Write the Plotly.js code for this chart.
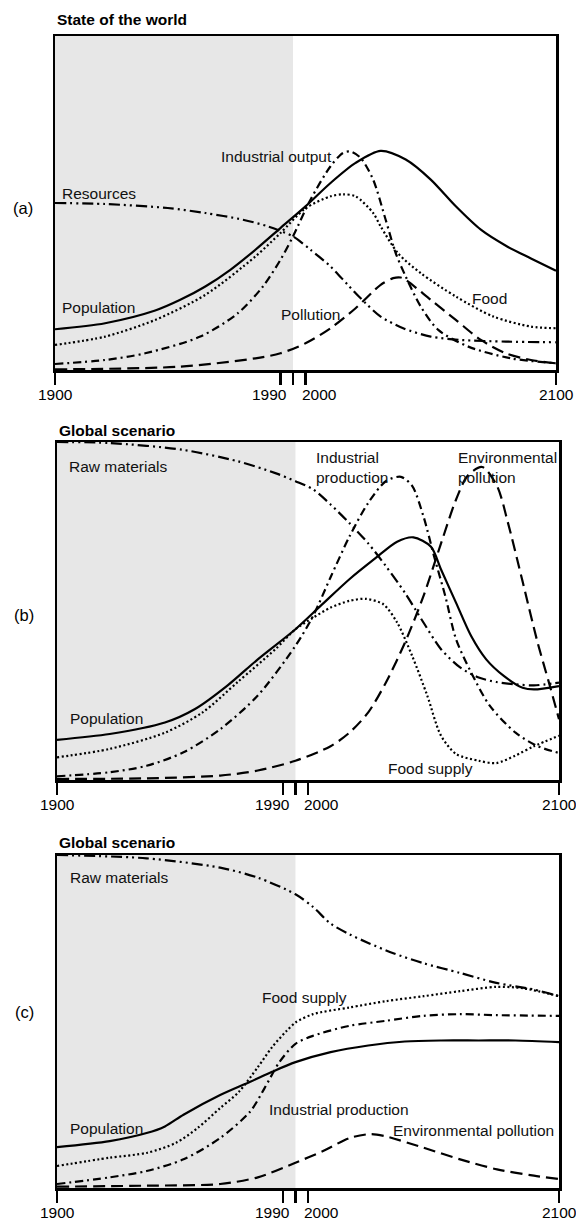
<!DOCTYPE html>
<html><head><meta charset="utf-8">
<script src="https://cdn.plot.ly/plotly-3.0.1.min.js"></script>
<style>html,body{margin:0;padding:0;background:#fff}</style>
</head><body><div id="chart" style="width:576px;height:1225px"></div>
<script>
// ---------- data ----------
const tickYears = [1900, 1990, 1995, 2000, 2100];
const tickLabels = ['1900', '1990', '2000', '2100'];
const historyEnd = 1995;

// Panel (a) State of the world
const popA_x = [1900,1920,1940,1950,1960,1970,1980,1990,2000,2010,2020,2030,2040,2050,2060,2070,2080,2090,2100];
const popA_y = [0.122,0.14,0.178,0.21,0.25,0.30,0.36,0.425,0.49,0.56,0.62,0.656,0.63,0.57,0.49,0.42,0.372,0.334,0.297];
const foodA_x = [1900,1920,1940,1960,1980,1990,2000,2010,2015,2020,2027,2030,2037,2046,2060,2075,2090,2100];
const foodA_y = [0.075,0.10,0.15,0.225,0.34,0.41,0.484,0.52,0.526,0.52,0.47,0.43,0.349,0.29,0.22,0.16,0.13,0.125];
const indA_x = [1900,1920,1936,1958,1973,1983,1990,1995,2002,2010,2015,2018,2022,2027,2032,2036,2040,2046,2053,2065,2082,2100];
const indA_y = [0.018,0.03,0.05,0.10,0.17,0.25,0.33,0.40,0.51,0.61,0.65,0.654,0.635,0.57,0.45,0.35,0.28,0.19,0.12,0.07,0.035,0.02];
const resA_x = [1900,1920,1945,1960,1975,1985,1995,2002,2010,2017,2024,2030,2039,2050,2062,2080,2100];
const resA_y = [0.50,0.497,0.485,0.47,0.45,0.43,0.40,0.36,0.31,0.254,0.20,0.16,0.125,0.10,0.09,0.085,0.083];
const polA_x = [1900,1950,1980,1990,2000,2010,2020,2030,2035,2038,2040,2050,2060,2070,2080,2090,2100];
const polA_y = [0.002,0.01,0.035,0.05,0.08,0.125,0.185,0.255,0.275,0.277,0.27,0.21,0.15,0.09,0.05,0.03,0.02];

// Panel (b) Global scenario
const popB_x = [1900,1921,1943,1955,1968,1980,1995,2005,2016.5,2027,2035.5,2042,2049,2053,2059,2065,2071,2078,2085.5,2090,2100];
const popB_y = [0.119,0.136,0.17,0.21,0.28,0.357,0.446,0.515,0.594,0.657,0.705,0.718,0.69,0.623,0.524,0.426,0.357,0.308,0.273,0.268,0.278];
const foodB_x = [1900,1921,1943,1958,1972,1987,1995,2002,2009,2016.5,2023,2030,2035.5,2041.5,2047.5,2053,2059,2068,2075,2082.5,2090,2100];
const foodB_y = [0.067,0.092,0.14,0.20,0.29,0.387,0.446,0.48,0.51,0.53,0.536,0.52,0.466,0.367,0.25,0.131,0.077,0.057,0.05,0.072,0.10,0.131];
const indB_x = [1900,1921,1935.7,1950.4,1965,1980,1995,2002,2009,2016.5,2024,2031,2037,2041.5,2046,2050.3,2054.7,2059,2065,2072.4,2082.7,2091.5,2100];
const indB_y = [0.011,0.023,0.042,0.082,0.15,0.25,0.397,0.485,0.60,0.72,0.82,0.884,0.897,0.87,0.78,0.66,0.544,0.416,0.318,0.22,0.14,0.10,0.08];
const rawB_x = [1900,1921,1950,1972,1987,1995,2002,2009,2016.5,2024,2031,2038.6,2046,2053,2060.6,2068,2075,2082.7,2090,2100];
const rawB_y = [1.0,0.997,0.977,0.943,0.908,0.884,0.86,0.815,0.76,0.70,0.633,0.554,0.466,0.387,0.333,0.303,0.29,0.283,0.28,0.288];
const polB_x = [1900,1935.7,1965,1980,1995,2009,2016.5,2024,2031,2038.6,2046,2053,2059,2063.6,2069.4,2075.3,2079.7,2085.6,2091.5,2096,2100];
const polB_y = [0.003,0.005,0.013,0.028,0.057,0.10,0.14,0.20,0.288,0.406,0.544,0.70,0.83,0.90,0.926,0.87,0.76,0.584,0.406,0.288,0.18];

// Panel (c) Global scenario
const popC_x = [1900,1921,1935.7,1943,1950.4,1965,1977,1985.7,1995,2009,2024,2038.6,2053,2068,2082.7,2100];
const popC_y = [0.123,0.141,0.165,0.185,0.22,0.279,0.319,0.349,0.378,0.408,0.428,0.44,0.443,0.443,0.443,0.438];
const foodC_x = [1900,1921,1936,1947.5,1956,1965,1972.5,1980,1985.7,1991.5,1995,2002,2016.5,2031,2046,2060.5,2075,2085.5,2100];
const foodC_y = [0.066,0.091,0.106,0.136,0.18,0.24,0.289,0.363,0.423,0.472,0.497,0.522,0.542,0.561,0.576,0.591,0.604,0.60,0.576];
const indC_x = [1900,1921,1935.7,1950.4,1965,1977,1982.7,1988.6,1995,2002,2016.5,2031,2046,2060.6,2075.3,2100];
const indC_y = [0.012,0.032,0.051,0.086,0.15,0.23,0.30,0.378,0.433,0.457,0.487,0.502,0.517,0.522,0.519,0.517];
const rawC_x = [1900,1935.7,1965,1980,1995,2002,2009,2016.5,2024,2034,2046,2060.5,2075,2090,2100];
const rawC_y = [1.0,0.99,0.962,0.932,0.882,0.844,0.794,0.762,0.736,0.705,0.675,0.646,0.616,0.596,0.576];
const polC_x = [1900,1935.7,1965,1980,1995,2006,2016.5,2025,2031,2046,2060.6,2075.3,2090,2100];
const polC_y = [0.004,0.007,0.012,0.032,0.076,0.111,0.15,0.162,0.155,0.121,0.086,0.056,0.037,0.027];

// ---------- styles ----------
const W = 576, H = 1225;
const FONT = 'Liberation Sans, Arial, Helvetica, sans-serif';
const LW = 2.2;
const DASH = {
  pop: 'solid',
  food: '2px,2.5px',
  ind: '8px,4px,2px,4px',
  res: '11px,4px,2px,4px,2px,4px',
  pol: '12px,6px'
};

function tr(x, y, kind, s) {
  return {x: x, y: y, type: 'scatter', mode: 'lines', xaxis: 'x' + s, yaxis: 'y' + s,
    line: {color: '#000', width: LW, dash: DASH[kind], shape: 'spline', smoothing: 0.8},
    hoverinfo: 'skip', showlegend: false, cliponaxis: true};
}

const data = [
  tr(resA_x, resA_y, 'res', ''), tr(polA_x, polA_y, 'pol', ''), tr(indA_x, indA_y, 'ind', ''),
  tr(foodA_x, foodA_y, 'food', ''), tr(popA_x, popA_y, 'pop', ''),
  tr(rawB_x, rawB_y, 'res', '2'), tr(polB_x, polB_y, 'pol', '2'), tr(indB_x, indB_y, 'ind', '2'),
  tr(foodB_x, foodB_y, 'food', '2'), tr(popB_x, popB_y, 'pop', '2'),
  tr(rawC_x, rawC_y, 'res', '3'), tr(polC_x, polC_y, 'pol', '3'), tr(indC_x, indC_y, 'ind', '3'),
  tr(foodC_x, foodC_y, 'food', '3'), tr(popC_x, popC_y, 'pop', '3')
];

// panel frames in pixels: [left, right, top, bottom]
const frames = [[55, 556, 36, 370], [57, 559, 442, 780], [57, 559, 855, 1188]];
const sfx = ['', '2', '3'];

function xa(f, s) {
  return {domain: [f[0] / W, f[1] / W], range: [1900, 2100], anchor: 'y' + s,
    tickmode: 'array', tickvals: tickYears, ticks: 'outside', ticklen: 12, tickwidth: 2.5, tickcolor: '#000',
    showticklabels: false, showline: true, linewidth: 2.5, linecolor: '#000', mirror: true,
    showgrid: false, zeroline: false, fixedrange: true};
}
function ya(f, s) {
  return {domain: [1 - f[3] / H, 1 - f[2] / H], range: [0, 1], anchor: 'x' + s,
    showticklabels: false, ticks: '', showline: true, linewidth: 2.5, linecolor: '#000', mirror: true,
    showgrid: false, zeroline: false, fixedrange: true};
}

const layout = {
  width: W, height: H, autosize: false,
  margin: {l: 0, r: 0, t: 0, b: 0},
  paper_bgcolor: '#fff', plot_bgcolor: 'rgba(0,0,0,0)',
  font: {family: FONT, size: 15.5, color: '#111'},
  shapes: [], annotations: []
};

frames.forEach((f, i) => {
  const s = sfx[i];
  layout['xaxis' + s] = xa(f, s);
  layout['yaxis' + s] = ya(f, s);
  layout.shapes.push({type: 'rect', xref: 'x' + s, yref: 'y' + s + ' domain', x0: 1900, x1: historyEnd, y0: 0, y1: 1,
    fillcolor: '#e7e7e7', line: {width: 0}, layer: 'below'});
  const tl = [
    {x: tickYears[0], text: tickLabels[0], xanchor: 'center', xshift: 0},
    {x: tickYears[1], text: tickLabels[1], xanchor: 'right', xshift: 9},
    {x: tickYears[3], text: tickLabels[2], xanchor: 'left', xshift: -6},
    {x: tickYears[4], text: tickLabels[3], xanchor: 'center', xshift: 0}
  ];
  tl.forEach(t => layout.annotations.push({xref: 'x' + s, yref: 'y' + s + ' domain', x: t.x, y: 0,
    yanchor: 'top', yshift: -14, xanchor: t.xanchor, xshift: t.xshift, text: t.text, showarrow: false,
    font: {size: 15.5, color: '#000'}}));
});

function lab(text, px, py, opts) {
  const a = Object.assign({xref: 'paper', yref: 'paper', x: px / W, y: 1 - py / H, xanchor: 'left', yanchor: 'middle',
    text: text, showarrow: false, align: 'left', font: {size: 15.5, color: '#111'}}, opts || {});
  layout.annotations.push(a);
}

// titles
lab('<b>State of the world</b>', 55, 20, {font: {size: 15.5, color: '#000'}});
lab('<b>Global scenario</b>', 57, 430, {font: {size: 15.5, color: '#000'}});
lab('<b>Global scenario</b>', 57, 842, {font: {size: 15.5, color: '#000'}});
// panel letters
lab('(a)', 23, 208, {xanchor: 'center', font: {size: 16.5, color: '#000'}});
lab('(b)', 24, 615, {xanchor: 'center', font: {size: 16.5, color: '#000'}});
lab('(c)', 24, 1012, {xanchor: 'center', font: {size: 16.5, color: '#000'}});
// panel (a) labels
lab('Industrial output', 219, 157);
lab('Resources', 60, 193);
lab('Population', 60, 307);
lab('Pollution', 279, 315);
lab('Food', 470, 298);
// panel (b) labels
lab('Raw materials', 67, 466);
lab('Industrial<br>production', 314, 468);
lab('Environmental<br>pollution', 456, 468);
lab('Population', 68, 718);
lab('Food supply', 386, 768);
// panel (c) labels
lab('Raw materials', 68, 877);
lab('Food supply', 260, 997);
lab('Industrial production', 267, 1109);
lab('Population', 68, 1128);
lab('Environmental pollution', 391, 1130);

Plotly.newPlot('chart', data, layout, {staticPlot: true, displayModeBar: false});
</script>
</body></html>
